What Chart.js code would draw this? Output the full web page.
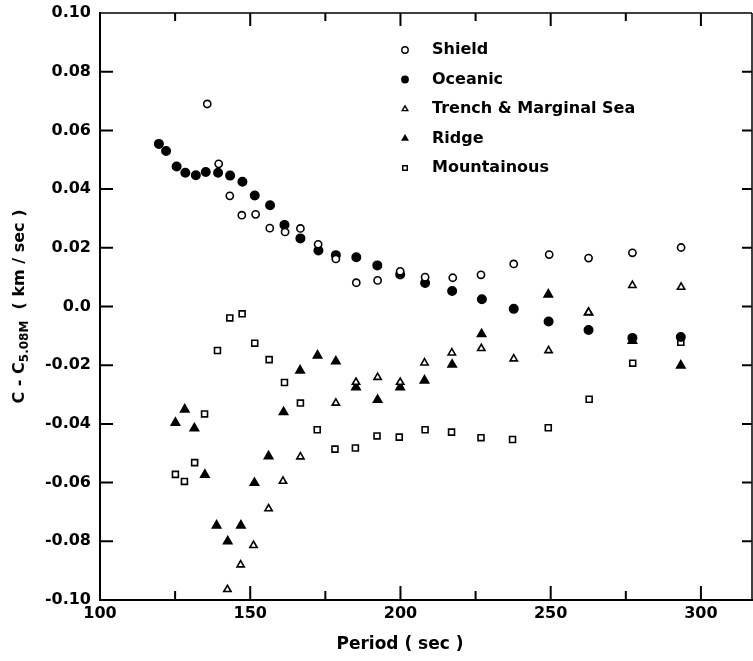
<!DOCTYPE html>
<html>
<head>
<meta charset="utf-8">
<script src="https://cdn.jsdelivr.net/npm/chart.js@4/dist/chart.umd.min.js"></script>
<style>
  html, body { margin: 0; padding: 0; background: #fff; }
  #wrap { width: 753px; height: 661px; }
</style>
</head>
<body>
<div id="wrap"><canvas id="graphCanvas" width="753" height="661"></canvas></div>
<script>
// values: period (sec) and C - C5.08M (km/sec)
const shieldPeriod = [135.7, 139.5, 143.2, 147.2, 151.8, 156.5, 161.6, 166.7, 172.6, 178.5, 185.3, 192.4, 199.9, 208.2, 217.4, 226.8, 237.7, 249.5, 262.6, 277.2, 293.4];
const shieldDelta  = [0.069, 0.0486, 0.0377, 0.0311, 0.0314, 0.0267, 0.0254, 0.0266, 0.0212, 0.0162, 0.0081, 0.0089, 0.0120, 0.0100, 0.0098, 0.0108, 0.0145, 0.0177, 0.0165, 0.0183, 0.0201];

const oceanicPeriod = [119.6, 122.0, 125.5, 128.4, 131.9, 135.2, 139.3, 143.3, 147.4, 151.5, 156.6, 161.4, 166.7, 172.7, 178.5, 185.3, 192.3, 199.9, 208.2, 217.2, 227.1, 237.7, 249.3, 262.6, 277.2, 293.3];
const oceanicDelta  = [0.0554, 0.053, 0.0477, 0.0456, 0.0447, 0.0458, 0.0456, 0.0446, 0.0425, 0.0378, 0.0345, 0.0278, 0.0232, 0.0191, 0.0175, 0.0168, 0.014, 0.0109, 0.008, 0.0053, 0.0025, -0.0008, -0.0051, -0.008, -0.0107, -0.0104];

const trenchPeriod = [142.4, 146.8, 151.1, 156.1, 160.9, 166.7, 178.5, 185.2, 192.4, 199.9, 208.0, 217.1, 226.9, 237.7, 249.3, 262.6, 277.2, 293.4];
const trenchDelta  = [-0.0964, -0.088, -0.0814, -0.0689, -0.0595, -0.0512, -0.0329, -0.0258, -0.0241, -0.0258, -0.0192, -0.0158, -0.0143, -0.0178, -0.0150, -0.002, 0.0072, 0.0066];

const ridgePeriod = [125.1, 128.2, 131.4, 134.9, 138.8, 142.5, 146.9, 151.4, 156.1, 161.1, 166.6, 172.4, 178.5, 185.2, 192.4, 199.9, 208.0, 217.2, 227.0, 249.2, 262.6, 277.2, 293.3];
const ridgeDelta  = [-0.0396, -0.0351, -0.0415, -0.0573, -0.0746, -0.08, -0.0746, -0.0601, -0.051, -0.036, -0.0218, -0.0167, -0.0187, -0.0275, -0.0318, -0.0275, -0.0252, -0.0198, -0.0094, 0.0041, -0.0021, -0.0117, -0.0201];

const mountPeriod = [125.1, 128.1, 131.5, 134.8, 139.1, 143.2, 147.3, 151.5, 156.3, 161.4, 166.7, 172.3, 178.2, 185.0, 192.2, 199.6, 208.2, 217.0, 226.8, 237.3, 249.2, 262.8, 277.3, 293.3];
const mountDelta  = [-0.0572, -0.0596, -0.0532, -0.0366, -0.015, -0.0039, -0.0025, -0.0125, -0.0181, -0.0259, -0.0329, -0.042, -0.0486, -0.0482, -0.0441, -0.0445, -0.042, -0.0428, -0.0447, -0.0453, -0.0413, -0.0316, -0.0193, -0.0122];

const xMajorTicks = [100, 150, 200, 250, 300];
const xMinorTicks = [125, 175, 225, 275];
const yTicks = [-0.08, -0.06, -0.04, -0.02, 0, 0.02, 0.04, 0.06, 0.08];

const FONT = '"DejaVu Sans", sans-serif';
const INK = '#000';

function toPoints(xs, ys) {
    return xs.map((x, i) => ({ x: x, y: ys[i] }));
}

function series(label, xs, ys, style, filled, radius) {
    return {
        label: label,
        data: toPoints(xs, ys),
        pointStyle: style,
        pointRadius: radius,
        pointHoverRadius: radius,
        pointBorderWidth: 1.6,
        pointBorderColor: INK,
        pointBackgroundColor: filled ? INK : '#fff',
        showLine: false
    };
}

// inward tick marks on all four sides plus the top / right frame
const frameTicks = {
    id: 'frameTicks',
    afterDatasetsDraw(chart) {
        const ctx = chart.ctx;
        const a = chart.chartArea;
        const xs = chart.scales.x;
        const ys = chart.scales.y;
        ctx.save();
        ctx.strokeStyle = INK;
        ctx.lineWidth = 1.5;
        ctx.beginPath();
        ctx.moveTo(a.left, a.top); ctx.lineTo(a.right, a.top);
        ctx.moveTo(a.right, a.top); ctx.lineTo(a.right, a.bottom);
        ctx.stroke();

        ctx.lineWidth = 2;
        ctx.beginPath();
        xMajorTicks.forEach(v => {
            const px = xs.getPixelForValue(v);
            ctx.moveTo(px, a.bottom); ctx.lineTo(px, a.bottom - 14);
            ctx.moveTo(px, a.top); ctx.lineTo(px, a.top + 13);
        });
        xMinorTicks.forEach(v => {
            const px = xs.getPixelForValue(v);
            ctx.moveTo(px, a.bottom); ctx.lineTo(px, a.bottom - 9);
            ctx.moveTo(px, a.top); ctx.lineTo(px, a.top + 8);
        });
        yTicks.forEach(v => {
            const py = ys.getPixelForValue(v);
            ctx.moveTo(a.left, py); ctx.lineTo(a.left + 13, py);
            ctx.moveTo(a.right, py); ctx.lineTo(a.right - 10, py);
        });
        ctx.stroke();
        ctx.restore();
    }
};

// legend block inside the plot, upper middle
const innerLegend = {
    id: 'innerLegend',
    afterDraw(chart) {
        const ctx = chart.ctx;
        chart.data.datasets.forEach((ds, i) => {
            const y = 50 + i * 29.5;
            ctx.save();
            ctx.fillStyle = ds.pointBackgroundColor;
            ctx.strokeStyle = INK;
            ctx.lineWidth = 1.4;
            Chart.helpers.drawPoint(ctx, { pointStyle: ds.pointStyle, radius: 3.2, borderWidth: 1.4 }, 405, y);
            ctx.fillStyle = INK;
            ctx.font = 'bold 16px ' + FONT;
            ctx.textBaseline = 'middle';
            ctx.textAlign = 'left';
            ctx.fillText(ds.label, 432, y);
            ctx.restore();
        });
    }
};

// axis titles (y title has a subscript)
const axisTitles = {
    id: 'axisTitles',
    afterDraw(chart) {
        const ctx = chart.ctx;
        const a = chart.chartArea;
        ctx.save();
        ctx.fillStyle = INK;
        ctx.textBaseline = 'middle';
        ctx.font = 'bold 17px ' + FONT;
        ctx.textAlign = 'center';
        ctx.fillText('Period ( sec )', 400, 645);

        const parts = [
            { t: 'C - C', f: 'bold 16px ' + FONT, dy: 0 },
            { t: '5.08M', f: 'bold 12px ' + FONT, dy: 5 },
            { t: '  ( km / sec )', f: 'bold 16px ' + FONT, dy: 0 }
        ];
        let total = 0;
        parts.forEach(p => { ctx.font = p.f; p.w = ctx.measureText(p.t).width; total += p.w; });
        ctx.translate(20, (a.top + a.bottom) / 2);
        ctx.rotate(-Math.PI / 2);
        ctx.textAlign = 'left';
        let x = -total / 2;
        parts.forEach(p => {
            ctx.font = p.f;
            ctx.fillText(p.t, x, p.dy);
            x += p.w;
        });
        ctx.restore();
    }
};

const ctx = document.getElementById('graphCanvas').getContext('2d');
new Chart(ctx, {
    type: 'scatter',
    data: {
        datasets: [
            series('Shield', shieldPeriod, shieldDelta, 'circle', false, 3.6),
            series('Oceanic', oceanicPeriod, oceanicDelta, 'circle', true, 4.2),
            series('Trench & Marginal Sea', trenchPeriod, trenchDelta, 'triangle', false, 4.2),
            series('Ridge', ridgePeriod, ridgeDelta, 'triangle', true, 4.8),
            series('Mountainous', mountPeriod, mountDelta, 'rect', false, 4.2)
        ]
    },
    options: {
        responsive: false,
        animation: false,
        layout: { autoPadding: false, padding: { top: 13, right: 1, left: 0, bottom: 0 } },
        plugins: {
            legend: { display: false },
            tooltip: { enabled: false }
        },
        scales: {
            x: {
                type: 'linear',
                min: 100,
                max: 317,
                afterBuildTicks: scale => { scale.ticks = xMajorTicks.map(v => ({ value: v })); },
                afterFit: scale => {
                    scale.height = 61;
                    scale.paddingLeft = 0;
                    scale.paddingRight = 0;
                },
                grid: { display: false, drawTicks: false },
                border: { display: true, color: INK, width: 2 },
                ticks: {
                    color: INK,
                    padding: 4,
                    maxRotation: 0,
                    font: { family: FONT, size: 16, weight: 'bold' }
                }
            },
            y: {
                type: 'linear',
                min: -0.1,
                max: 0.1,
                afterBuildTicks: scale => {
                    scale.ticks = [-0.1].concat(yTicks, [0.1]).map(v => ({ value: v }));
                },
                afterFit: scale => {
                    scale.width = 100;
                    scale.paddingTop = 0;
                    scale.paddingBottom = 0;
                },
                grid: { display: false, drawTicks: false },
                border: { display: true, color: INK, width: 2 },
                ticks: {
                    color: INK,
                    padding: 9,
                    font: { family: FONT, size: 16, weight: 'bold' },
                    callback: v => (Math.abs(v) < 1e-9 ? '0.0' : v.toFixed(2))
                }
            }
        }
    },
    plugins: [frameTicks, innerLegend, axisTitles]
});
</script>
</body>
</html>
